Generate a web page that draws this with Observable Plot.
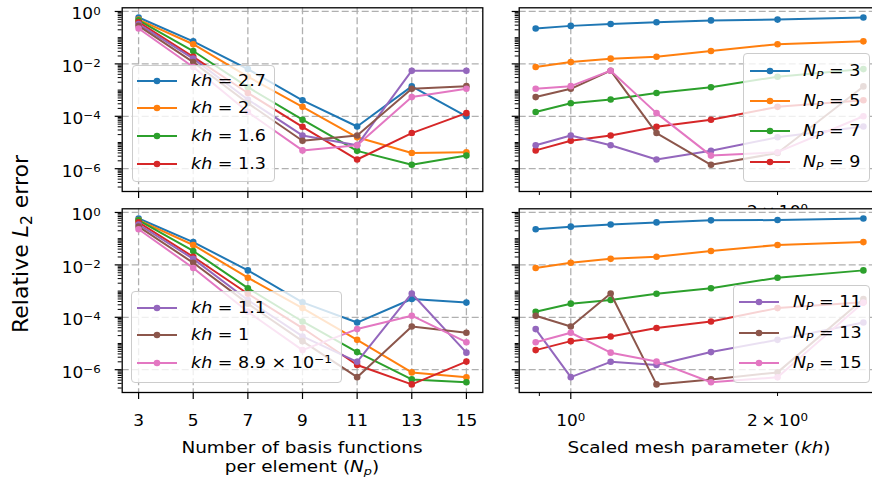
<!DOCTYPE html>
<html><head><meta charset="utf-8">
<script src="https://cdn.jsdelivr.net/npm/d3@7"></script>
<script src="https://cdn.jsdelivr.net/npm/@observablehq/plot@0.6"></script>
<style>
html,body{margin:0;padding:0;background:#fff;}
#fig{position:relative;width:872px;height:485px;overflow:hidden;background:#fff;font-family:"DejaVu Sans",sans-serif;color:#000;}
.pnl{position:absolute;}
.pnl svg{max-width:none !important;display:block;}
.lg{position:absolute;box-sizing:border-box;background:rgba(255,255,255,0.8);border:1.3px solid #cccccc;border-radius:4px;}
.lh{position:absolute;}
.lt{position:absolute;font-size:15.5px;line-height:20px;height:20px;white-space:nowrap;transform:scaleX(1.13);transform-origin:0 50%;}
.sup{font-size:0.7em;vertical-align:0.5em;line-height:0;}
.sub{font-size:0.7em;vertical-align:-0.25em;line-height:0;}
.xl{position:absolute;font-size:16px;line-height:19px;text-align:center;white-space:nowrap;transform:translateX(-50%) scaleX(1.15);}
.yl{position:absolute;font-size:22px;line-height:24px;white-space:nowrap;transform:translate(-50%,-50%) rotate(-90deg);}
</style>
</head><body><div id="fig"></div>
<script>
// ---------------- data ----------------
const npValues = [3, 5, 7, 9, 11, 13, 15];
const khValues = [0.889, 1, 1.143, 1.333, 1.6, 2, 2.667];
const khLegendLabels = ["8.9 × 10^−1", "1", "1.1", "1.3", "1.6", "2", "2.7"];
// errorsTop[i][j] : N_p = npValues[i], kh = khValues[j]
const errorsTop = [
  [0.224, 0.282, 0.331, 0.389, 0.457, 0.490, 0.589],
  [7.6e-3, 1.17e-2, 1.58e-2, 1.86e-2, 3.09e-2, 5.62e-2, 7.24e-2],
  [1.45e-4, 3.16e-4, 4.37e-4, 7.76e-4, 1.29e-3, 3.24e-3, 6.31e-3],
  [5.0e-6, 1.17e-5, 1.86e-5, 3.98e-5, 7.41e-5, 2.29e-4, 4.07e-4],
  [7.9e-6, 1.86e-5, 7.9e-6, 2.24e-6, 4.8e-6, 1.58e-5, 4.07e-5],
  [5.4e-4, 1.12e-3, 5.5e-3, 2.29e-5, 1.41e-6, 3.98e-6, 1.38e-3],
  [1.12e-3, 1.41e-3, 5.5e-3, 1.32e-4, 3.16e-6, 4.27e-6, 1.0e-4]
];
const errorsBottom = [
  [0.229, 0.288, 0.347, 0.417, 0.501, 0.513, 0.589],
  [7.6e-3, 1.20e-2, 1.70e-2, 2.04e-2, 3.39e-2, 5.75e-2, 7.41e-2],
  [1.62e-4, 3.31e-4, 4.57e-4, 7.94e-4, 1.29e-3, 3.24e-3, 6.17e-3],
  [5.6e-6, 1.23e-5, 1.86e-5, 3.89e-5, 6.92e-5, 2.24e-4, 3.72e-4],
  [3.55e-5, 5.2e-7, 2.0e-6, 1.51e-6, 4.7e-6, 1.38e-5, 6.3e-5],
  [1.15e-4, 4.47e-5, 8.1e-4, 2.75e-7, 4.27e-7, 7.9e-7, 5.0e-4],
  [1.12e-5, 2.57e-5, 4.47e-6, 2.04e-6, 3.31e-7, 5.1e-7, 3.63e-4]
];
const yTickValues = [1, 1e-2, 1e-4, 1e-6];
const yTickLabels = ["10^0", "10^−2", "10^−4", "10^−6"];
const khTickValues = [1, 2];
const khTickLabels = ["10^0", "2\u2009×\u200910^0"];
const khMinorTicks = [0.9, 2];
const palette = ["#1f77b4", "#ff7f0e", "#2ca02c", "#d62728", "#9467bd", "#8c564b", "#e377c2"];

// ---------------- helpers ----------------
const FONT = '"DejaVu Sans", sans-serif';
const fig = document.getElementById("fig");
const yDomain = [Math.pow(10, -6.87), Math.pow(10, 0.14)];
const yMinor = [];
for (let k = -7; k <= 0; k++) for (let d = 1; d <= 9; d++) {
  const v = d * Math.pow(10, k);
  if (v >= yDomain[0] && v <= yDomain[1] && !yTickValues.some(m => Math.abs(m - v) / m < 1e-9)) yMinor.push(v);
}
function tidy(errors) {
  const out = [];
  npValues.forEach((np, i) => khValues.forEach((kh, j) => out.push({np, kh, i, j, err: errors[i][j]})));
  return out;
}
const rowsTop = tidy(errorsTop), rowsBottom = tidy(errorsBottom);

const gridStyle = {stroke: "#b0b0b0", strokeOpacity: 1, strokeWidth: 1.3, strokeDasharray: "7,3"};

function postText(svg) {
  svg.querySelectorAll("text").forEach(t => {
    const s = t.textContent;
    if (s.includes("^")) {
      const [base, exp] = s.split("^");
      t.textContent = base;
      const ts = document.createElementNS("http://www.w3.org/2000/svg", "tspan");
      ts.setAttribute("dy", "-0.45em");
      ts.setAttribute("font-size", "0.7em");
      ts.textContent = exp;
      t.appendChild(ts);
    }
    const x = +(t.getAttribute("x") || 0);
    t.setAttribute("transform", (t.getAttribute("transform") || "") + ` translate(${x},0) scale(1.13,1) translate(${-x},0)`);
  });
}

function panel(cfg) {
  const {rows, xField, seriesField, order, colorOf, xScale, frame, pos, xMajor, xMinor, xGrid,
         xLabelVals, xLabelTexts, xLabelDy = 23, yLabels, whiteFrame} = cfg;
  const marks = [];
  if (whiteFrame) marks.push(Plot.frame({fill: "white", stroke: null}));
  marks.push(Plot.gridY(yTickValues, gridStyle));
  marks.push(Plot.gridX(xGrid, gridStyle));
  for (const s of order) {
    const d = rows.filter(r => r[seriesField] === s);
    const c = palette[colorOf(s)];
    marks.push(Plot.line(d, {x: xField, y: "err", stroke: c, strokeWidth: 2}));
    marks.push(Plot.dot(d, {x: xField, y: "err", r: 3.3, fill: c}));
  }
  marks.push(Plot.frame({stroke: "black", strokeWidth: 1.3}));
  marks.push(Plot.axisY(yTickValues, {tickSize: 7, strokeWidth: 1.2, fill: "none", label: null}));
  marks.push(Plot.axisY(yMinor, {tickSize: 4, strokeWidth: 1, fill: "none", label: null}));
  marks.push(Plot.axisX(xMajor, {tickSize: 7, strokeWidth: 1.2, fill: "none", label: null}));
  if (xMinor.length) marks.push(Plot.axisX(xMinor, {tickSize: 4, strokeWidth: 1, fill: "none", label: null}));
  if (yLabels) marks.push(Plot.text(yTickValues, {y: d => d, text: (d, i) => yTickLabels[i], frameAnchor: "left",
      textAnchor: "end", dx: -21.5, dy: 3, fontSize: 15, fill: "black", fontFamily: FONT}));
  if (xLabelVals) marks.push(Plot.text(xLabelVals, {x: d => d, text: (d, i) => xLabelTexts[i], frameAnchor: "bottom",
      lineAnchor: "top", dy: xLabelDy, fontSize: 15, fill: "black", fontFamily: FONT}));
  const svg = Plot.plot({
    width: pos.width, height: pos.height,
    marginLeft: frame.x0 - pos.left, marginRight: pos.left + pos.width - frame.x1,
    marginTop: frame.y0 - pos.top, marginBottom: pos.top + pos.height - frame.y1,
    x: {...xScale, label: null},
    y: {type: "log", domain: yDomain, label: null},
    style: {background: "transparent", overflow: "visible", color: "black", fontFamily: FONT, maxWidth: "none"},
    marks
  });
  postText(svg);
  const div = document.createElement("div");
  div.className = "pnl";
  div.style.left = pos.left + "px"; div.style.top = pos.top + "px";
  div.style.width = pos.width + "px"; div.style.height = pos.height + "px";
  div.appendChild(svg);
  fig.appendChild(div);
}

const colL = {x0: 121.7, x1: 482.3}, colR = {x0: 518.7, x1: 879.3};
const rowT = {y0: 7.3, y1: 191}, rowB = {y0: 208.3, y1: 392};
const posL = {left: 0, width: 500}, posR = {left: 495, width: 395};
const posT = {top: 0, height: 240}, posB = {top: 200, height: 285};
const npScale = {type: "linear", domain: [2.4, 15.6]};
const khScale = {type: "log", domain: [Math.pow(10, -0.0751), Math.pow(10, 0.4499)]};
const khOrder = [6, 5, 4, 3, 2, 1, 0];
const npOrder = [0, 1, 2, 3, 4, 5, 6];

// top-left
panel({rows: rowsTop, xField: "np", seriesField: "j", order: khOrder, colorOf: j => 6 - j, xScale: npScale,
  frame: {...colL, ...rowT}, pos: {...posL, ...posT}, xMajor: npValues, xMinor: [], xGrid: npValues,
  yLabels: true});
// top-right (minor label "2 x 10^0" peeks out under the lower panel)
panel({rows: rowsTop, xField: "kh", seriesField: "i", order: npOrder, colorOf: i => i, xScale: khScale,
  frame: {...colR, ...rowT}, pos: {...posR, ...posT}, xMajor: [1], xMinor: khMinorTicks, xGrid: [1],
  xLabelVals: [khTickValues[1]], xLabelTexts: [khTickLabels[1]], xLabelDy: 15, yLabels: false});
// bottom-left
panel({rows: rowsBottom, xField: "np", seriesField: "j", order: khOrder, colorOf: j => 6 - j, xScale: npScale,
  frame: {...colL, ...rowB}, pos: {...posL, ...posB}, xMajor: npValues, xMinor: [], xGrid: npValues,
  xLabelVals: npValues, xLabelTexts: npValues.map(String), yLabels: true, whiteFrame: true});
// bottom-right
panel({rows: rowsBottom, xField: "kh", seriesField: "i", order: npOrder, colorOf: i => i, xScale: khScale,
  frame: {...colR, ...rowB}, pos: {...posR, ...posB}, xMajor: [1], xMinor: khMinorTicks, xGrid: [1],
  xLabelVals: khTickValues, xLabelTexts: khTickLabels, yLabels: false, whiteFrame: true});

// ---------------- legends ----------------
function mathHTML(s) {
  if (s.includes("^")) { const [b, e] = s.split("^"); return `${b}<span class="sup">${e}</span>`; }
  return s;
}
function legend(box, rowYs, hx, tx, items) {
  const b = document.createElement("div");
  b.className = "lg";
  Object.assign(b.style, {left: box[0] + "px", top: box[1] + "px", width: box[2] + "px", height: box[3] + "px"});
  fig.appendChild(b);
  items.forEach((it, k) => {
    const y = rowYs[k];
    const h = document.createElementNS("http://www.w3.org/2000/svg", "svg");
    h.setAttribute("width", 40); h.setAttribute("height", 12);
    h.setAttribute("class", "lh");
    h.style.left = hx + "px"; h.style.top = (y - 6) + "px";
    h.innerHTML = `<line x1="0" x2="40" y1="6" y2="6" stroke="${it.color}" stroke-width="2"/><circle cx="20" cy="6" r="3.3" fill="${it.color}"/>`;
    fig.appendChild(h);
    const t = document.createElement("div");
    t.className = "lt";
    t.style.left = tx + "px"; t.style.top = (y - 10) + "px";
    t.innerHTML = it.html;
    fig.appendChild(t);
  });
}
const khItem = j => ({color: palette[6 - j], html: `<i>kh</i> = ${mathHTML(khLegendLabels[j])}`});
const npItem = i => ({color: palette[i], html: `<i>N</i><span class="sub"><i>P</i></span> = ${npValues[i]}`});
legend([131.7, 65, 143.3, 116.7], [80.7, 108.3, 136, 163.6], 137.3, 190.7, [6, 5, 4, 3].map(khItem));
legend([131, 290.7, 210.7, 92], [307.5, 335.2, 362.9], 137.3, 190.7, [2, 1, 0].map(khItem));
legend([743.3, 53.3, 126.7, 128.4], [70.7, 101, 131.3, 161.6], 750, 803.3, [0, 1, 2, 3].map(npItem));
legend([732.7, 285, 137.3, 98.3], [302.3, 332.6, 362.9], 739.3, 792.7, [4, 5, 6].map(npItem));

// ---------------- axis titles ----------------
function addDiv(cls, html, left, top) {
  const d = document.createElement("div");
  d.className = cls; d.innerHTML = html;
  d.style.left = left + "px"; d.style.top = top + "px";
  fig.appendChild(d);
}
addDiv("xl", "Number of basis functions<br>per element (<i>N</i><span class=\"sub\"><i>p</i></span>)", 302, 438);
addDiv("xl", "Scaled mesh parameter (<i>kh</i>)", 699, 438);
addDiv("yl", "Relative <i>L</i><span class=\"sub\">2</span> error", 20.5, 244);
</script>
</body></html>
